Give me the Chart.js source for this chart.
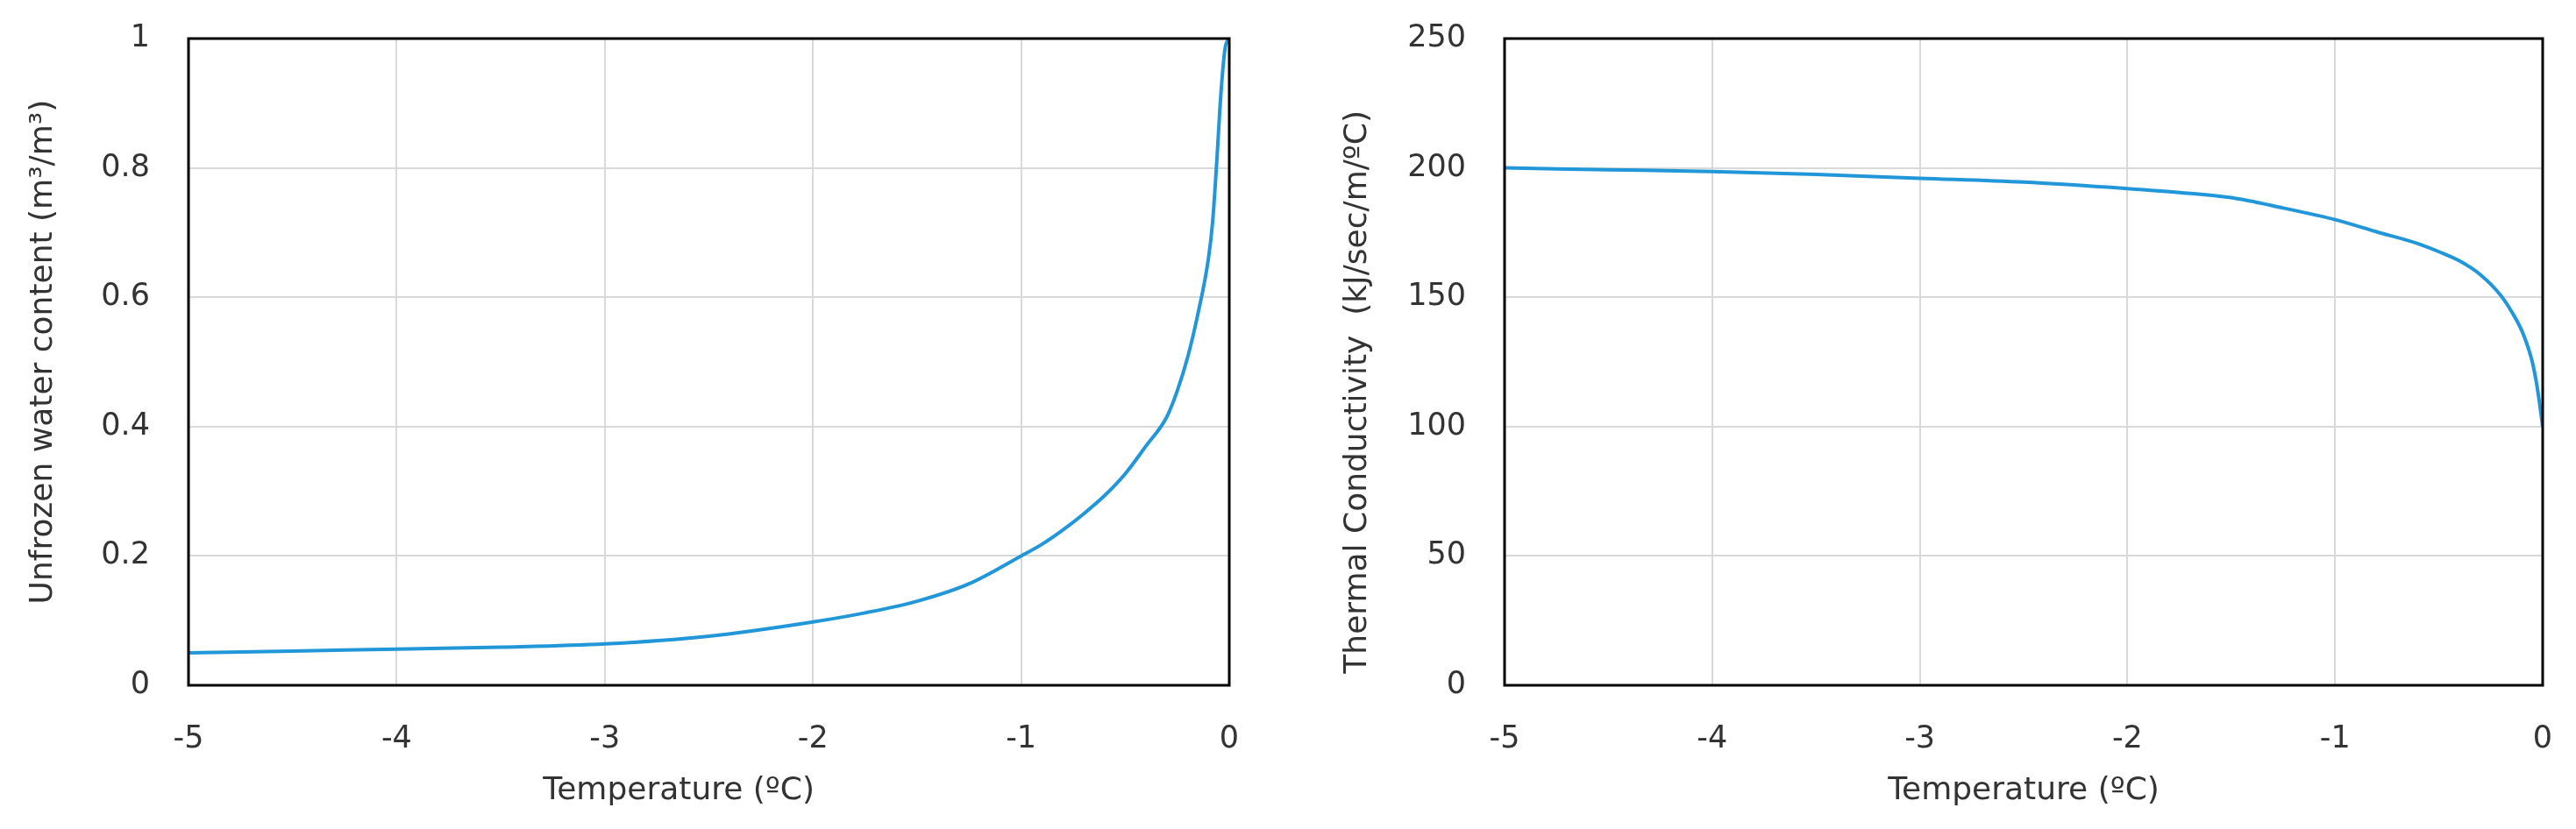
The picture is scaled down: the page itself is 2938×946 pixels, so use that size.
<!DOCTYPE html>
<html>
<head>
<meta charset="utf-8">
<script src="https://cdn.jsdelivr.net/npm/chart.js@4.4.0/dist/chart.umd.min.js"></script>
<style>
  body { margin: 0; background: #fff; }
  .box { position: absolute; top: 0; width: 1469px; height: 946px; }
</style>
</head>
<body>
<div class="box" style="left:0"><canvas id="water" width="1469" height="946"></canvas></div>
<div class="box" style="left:1469px"><canvas id="cond" width="1469" height="946"></canvas></div>
<script>
// unfrozen water content curve
const waterTemp = [-5, -4.5, -4, -3.5, -3, -2.5, -2, -1.75, -1.5, -1.25, -1, -0.9, -0.8, -0.7, -0.6, -0.5, -0.4, -0.3, -0.25, -0.2, -0.15, -0.1, -0.08, -0.06, -0.04, -0.02, 0];
const waterContent = [0.050, 0.053, 0.056, 0.059, 0.064, 0.076, 0.098, 0.112, 0.130, 0.157, 0.200, 0.218, 0.240, 0.265, 0.293, 0.327, 0.370, 0.415, 0.455, 0.507, 0.575, 0.660, 0.716, 0.810, 0.915, 0.985, 1.0];

// thermal conductivity curve
const condTemp = [-5, -4.5, -4, -3.5, -3, -2.5, -2, -1.75, -1.5, -1.25, -1, -0.8, -0.6, -0.5, -0.4, -0.3, -0.2, -0.15, -0.1, -0.07, -0.05, -0.03, -0.015, 0];
const conductivity = [200, 199.3, 198.6, 197.5, 196, 194.5, 192, 190.5, 188.5, 184.5, 180, 175.3, 170.7, 167.6, 164, 158.7, 150.5, 144.5, 137, 130.5, 125, 117, 109, 100];

const lineColor = '#2196d8';
const gridColor = '#d9d9d9';
const textColor = '#333333';
const fontFamily = 'DejaVu Sans';

Chart.defaults.font.family = fontFamily;
Chart.defaults.color = textColor;

// black frame round the plot area
const frame = {
    id: 'frame',
    afterDraw(chart) {
        const a = chart.chartArea;
        const ctx = chart.ctx;
        ctx.save();
        ctx.strokeStyle = '#000';
        ctx.lineWidth = 3;
        ctx.strokeRect(a.left, a.top, a.right - a.left, a.bottom - a.top);
        ctx.restore();
    }
};

function makeChart(id, xs, ys, yMax, yStep, xTitle, yTitle, yWidth, padRight, titlePad) {
    let pts = xs.map(function (x, i) { return {x: x, y: ys[i]}; });
    return new Chart(document.getElementById(id), {
        type: 'scatter',
        data: {
            datasets: [{
                data: pts,
                showLine: true,
                borderColor: lineColor,
                borderWidth: 4,
                pointRadius: 0,
                cubicInterpolationMode: 'monotone'
            }]
        },
        options: {
            responsive: false,
            animation: false,
            layout: { padding: { top: 44, right: padRight, bottom: 0, left: 0 } },
            plugins: { legend: { display: false }, tooltip: { enabled: false } },
            scales: {
                x: {
                    type: 'linear',
                    min: -5, max: 0,
                    grid: { color: gridColor, lineWidth: 2, drawTicks: false },
                    border: { display: false },
                    ticks: { stepSize: 1, padding: 41, font: { size: 35 }, color: textColor },
                    title: { display: true, text: xTitle, font: { size: 36 }, color: textColor, padding: { top: 0, bottom: 22 } },
                    afterFit: function (s) {
                        s.height = 164;
                        s.paddingLeft = 0;
                        s.paddingRight = 0;
                    }
                },
                y: {
                    min: 0, max: yMax,
                    grid: { color: gridColor, lineWidth: 2, drawTicks: false },
                    border: { display: false },
                    ticks: {
                        stepSize: yStep, padding: 44, font: { size: 35 }, color: textColor,
                        callback: function (v) { return String(Math.round(v * 10) / 10); }
                    },
                    title: { display: true, text: yTitle, font: { size: 36 }, color: textColor, padding: { top: titlePad, bottom: 0 } },
                    afterFit: function (s) {
                        s.width = yWidth;
                        s.paddingTop = 0;
                        s.paddingBottom = 0;
                    }
                }
            }
        },
        plugins: [frame]
    });
}

// spaces nudge the centred titles to where they sit in the original
makeChart('water', waterTemp, waterContent, 1, 0.2,
    'Temperature (\u00BAC)      ',
    '  Unfrozen water content (m\u00B3/m\u00B3)', 215, 67, 28);
makeChart('cond', condTemp, conductivity, 250, 50,
    'Temperature (\u00BAC)',
    'Thermal Conductivity  (kJ/sec/m/\u00BAC)      ', 247, 38, 58);
</script>
</body>
</html>
